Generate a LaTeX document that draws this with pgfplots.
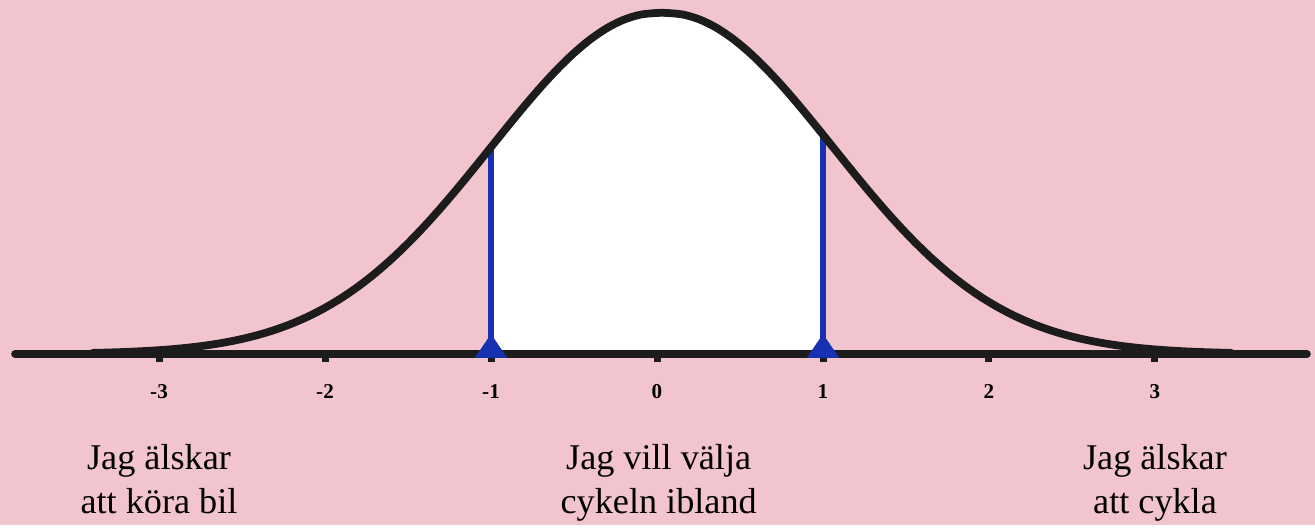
\documentclass[border=0pt]{standalone}
\usepackage{pgfplots}
\pgfplotsset{compat=1.18}
\usepackage{fontspec}
\setmainfont{Liberation Serif}
\definecolor{bgpink}{RGB}{242,196,206}
\definecolor{curveblk}{RGB}{28,28,28}
\definecolor{lineblue}{RGB}{22,50,178}
\begin{document}
\begin{tikzpicture}
\begin{axis}[
  x=33.2mm, y=68.2mm,
  xmin=-3.958, xmax=3.964, ymin=-0.501, ymax=1.038,
  axis background/.style={fill=bgpink},
  axis x line=middle, axis y line=none,
  axis line style={draw=none},
  xtick={-3,-2,-1,0,1,2,3},
  xticklabels={\textbf{-3},\textbf{-2},\textbf{-1},\textbf{0},\textbf{1},\textbf{2},\textbf{3}},
  tick align=outside, major tick length=1.6mm,
  xtick style={line width=1.4mm, color=curveblk},
  xticklabel style={font=\fontsize{12}{14}\selectfont, anchor=base, yshift=-7.3mm},
  clip=false,
]
% white area between -1 and 1
\addplot[fill=white, draw=none, smooth] coordinates {
  (-1.0,0.60653) (-0.9,0.66698) (-0.8,0.72615) (-0.7,0.78271) (-0.6,0.83527)
  (-0.5,0.88250) (-0.4,0.92312) (-0.3,0.95600) (-0.2,0.98020) (-0.1,0.99501)
  (0.0,1.0) (0.06,1.0) (0.16,0.99501) (0.26,0.98020) (0.36,0.95600)
  (0.46,0.92312) (0.56,0.88250) (0.66,0.83527) (0.76,0.78271) (0.86,0.72615)
  (0.96,0.66698) (1.0,0.6429)
} \closedcycle;
% blue verticals
\addplot[line width=1.1mm, color=lineblue] coordinates {(-1,0) (-1,0.60653)};
\addplot[line width=1.1mm, color=lineblue] coordinates {(1,0) (1,0.6429)};
% baseline
\addplot[line width=1.5mm, line cap=round, color=curveblk] coordinates {(-3.868,0) (3.916,0)};
% curve
\addplot[line width=1.55mm, color=curveblk, smooth, line cap=round] coordinates {
  (-3.4,0.00309) (-3.3,0.00432) (-3.2,0.00598) (-3.1,0.00819) (-3.0,0.01111)
  (-2.9,0.01492) (-2.8,0.01984) (-2.7,0.02612) (-2.6,0.03405) (-2.5,0.04394)
  (-2.4,0.05613) (-2.3,0.07100) (-2.2,0.08892) (-2.1,0.11025) (-2.0,0.13534)
  (-1.9,0.16447) (-1.8,0.19790) (-1.7,0.23575) (-1.6,0.27804) (-1.5,0.32465)
  (-1.4,0.37531) (-1.3,0.42956) (-1.2,0.48675) (-1.1,0.54607) (-1.0,0.60653)
  (-0.9,0.66698) (-0.8,0.72615) (-0.7,0.78271) (-0.6,0.83527) (-0.5,0.88250)
  (-0.4,0.92312) (-0.3,0.95600) (-0.2,0.98020) (-0.1,0.99501) (0.0,1.0)
  (0.06,1.0) (0.16,0.99501) (0.26,0.98020) (0.36,0.95600) (0.46,0.92312)
  (0.56,0.88250) (0.66,0.83527) (0.76,0.78271) (0.86,0.72615) (0.96,0.66698)
  (1.06,0.60653) (1.16,0.54607) (1.26,0.48675) (1.36,0.42956) (1.46,0.37531)
  (1.56,0.32465) (1.66,0.27804) (1.76,0.23575) (1.86,0.19790) (1.96,0.16447)
  (2.06,0.13534) (2.16,0.11025) (2.26,0.08892) (2.36,0.07100) (2.46,0.05613)
  (2.56,0.04394) (2.66,0.03405) (2.76,0.02612) (2.86,0.01984) (2.96,0.01492)
  (3.06,0.01111) (3.16,0.00819) (3.26,0.00598) (3.36,0.00432) (3.46,0.00309)
};
% triangles
\addplot[only marks, mark=triangle*, mark size=3.6mm, color=lineblue,
  mark options={yscale=0.85}] coordinates {(-1,0.0117) (1,0.0117)};
% labels
\node[anchor=base, font=\fontsize{20.6}{25}\selectfont] at (axis cs:-3.0,-0.340) {Jag älskar};
\node[anchor=base, font=\fontsize{20.6}{25}\selectfont] at (axis cs:-3.0,-0.469) {att köra bil};
\node[anchor=base, font=\fontsize{20.6}{25}\selectfont] at (axis cs:0.01,-0.340) {Jag vill välja};
\node[anchor=base, font=\fontsize{20.6}{25}\selectfont] at (axis cs:0.01,-0.469) {cykeln ibland};
\node[anchor=base, font=\fontsize{20.6}{25}\selectfont] at (axis cs:3.0,-0.340) {Jag älskar};
\node[anchor=base, font=\fontsize{20.6}{25}\selectfont] at (axis cs:3.0,-0.469) {att cykla};
\end{axis}
\end{tikzpicture}
\end{document}
